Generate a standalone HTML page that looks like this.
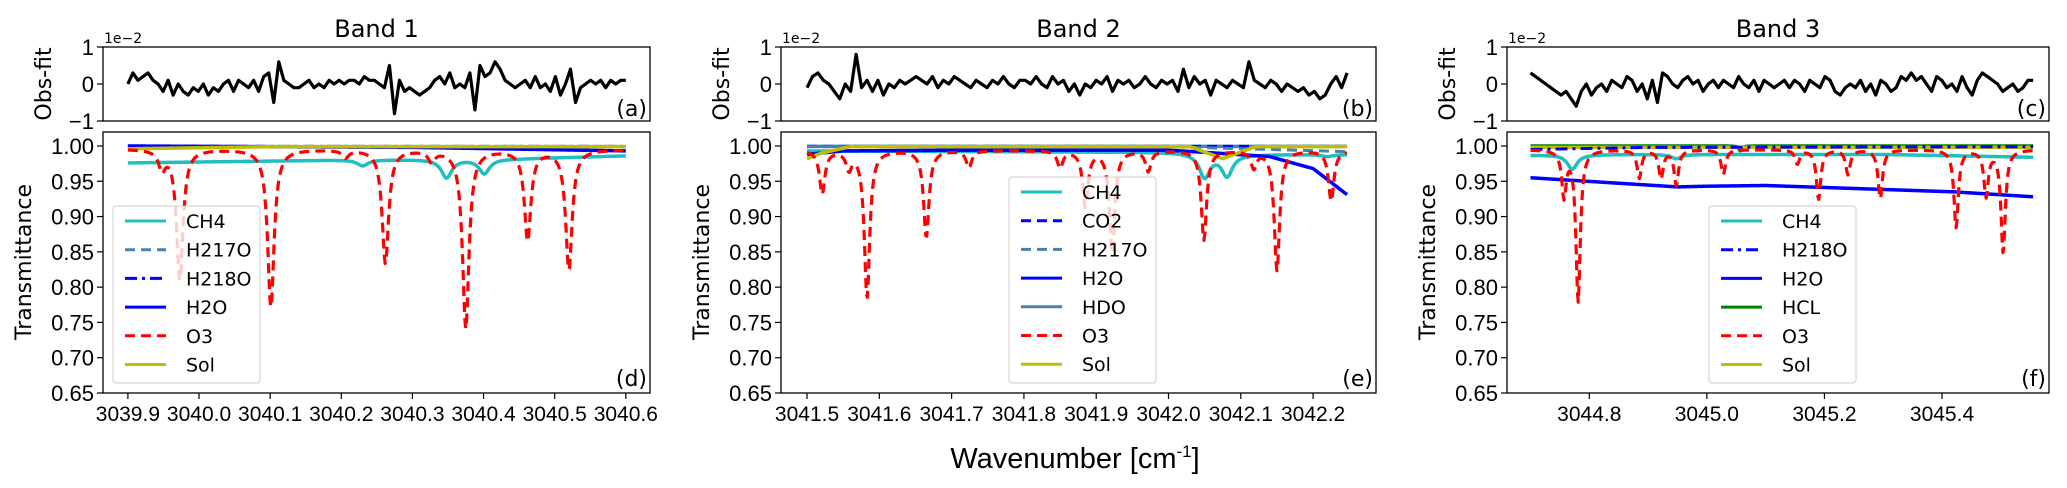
<!DOCTYPE html>
<html><head><meta charset="utf-8"><style>
html,body{margin:0;padding:0;background:#fff;}
svg{display:block;font-family:"DejaVu Sans","Liberation Sans",sans-serif;}
.tk{font-family:"Liberation Sans",sans-serif;}
</style></head><body>
<svg id="fig" width="2067" height="488" viewBox="0 0 2067 488" xmlns="http://www.w3.org/2000/svg"></svg>
<script>
// ---------------- data ----------------
const bandTitles = ["Band 1","Band 2","Band 3"];
const xTicks1 = [3039.9,3040.0,3040.1,3040.2,3040.3,3040.4,3040.5,3040.6];
const xTicks2 = [3041.5,3041.6,3041.7,3041.8,3041.9,3042.0,3042.1,3042.2];
const xTicks3 = [3044.8,3045.0,3045.2,3045.4];
const yTicksTop = [-1,0,1];
const yTicksBot = [0.65,0.70,0.75,0.80,0.85,0.90,0.95,1.00];

// residuals (units of 1e-2)
const resid1 = [0,0.3,0.1,0.2,0.3,0.1,0.0,-0.2,0.1,-0.3,0.0,-0.2,-0.3,-0.1,-0.2,0.0,-0.3,-0.1,-0.2,0.0,
 0.1,-0.2,0.1,0.0,-0.1,0.1,-0.2,0.2,0.3,-0.5,0.6,0.1,0.0,-0.1,-0.1,0.0,0.1,-0.1,0.0,-0.1,
 0.1,0.0,0.1,0.0,0.1,0.1,0.0,0.2,0.1,0.1,0.0,-0.1,0.5,-0.8,0.1,-0.2,-0.1,-0.2,-0.3,-0.2,
 -0.1,0.1,0.2,0.0,0.3,-0.1,0.0,-0.1,0.3,-0.7,0.5,0.2,0.3,0.6,0.4,0.1,0.0,-0.1,0.0,0.1,
 -0.1,0.2,-0.1,0.0,-0.2,0.2,-0.3,0.0,0.4,-0.5,-0.1,0.0,0.1,0.0,0.1,-0.1,0.1,0.0,0.1,0.1];
const resid2 = [-0.1,0.2,0.3,0.1,0.0,-0.2,-0.4,0.0,-0.2,0.8,-0.1,0.1,-0.2,0.1,-0.3,0.0,-0.1,0.1,0.0,0.1,
 0.2,0.1,0.0,0.2,-0.1,0.1,0.0,0.2,0.1,0.0,-0.1,0.1,0.0,-0.1,0.1,0.0,0.2,0.0,-0.1,0.1,
 0.1,0.0,0.2,0.0,-0.1,0.2,0.0,0.1,-0.2,0.0,-0.3,0.0,-0.1,0.1,0.0,0.2,-0.2,0.1,0.0,0.1,
 -0.1,0.0,0.2,0.0,-0.1,0.1,0.0,0.1,-0.2,0.4,-0.1,0.2,0.0,0.1,-0.3,0.1,0.0,-0.1,0.1,0.0,
 -0.1,0.6,0.1,0.0,-0.1,0.1,0.0,-0.2,0.0,-0.1,-0.2,-0.1,-0.3,-0.2,-0.4,-0.3,0.0,0.2,-0.1,0.3];
const resid3 = [0.3,0.2,0.1,0.0,-0.1,-0.2,-0.3,-0.2,-0.4,-0.6,-0.2,0.0,-0.3,-0.1,0.0,-0.2,0.1,0.0,-0.1,0.2,
 0.1,-0.2,0.0,-0.4,0.1,-0.5,0.3,0.2,0.0,-0.1,0.1,0.2,0.0,0.1,-0.2,0.0,0.1,-0.1,0.1,0.0,
 -0.1,0.2,0.0,-0.1,0.1,-0.2,0.1,0.0,-0.1,0.0,0.1,-0.1,0.1,0.0,-0.2,0.1,0.0,-0.1,0.2,0.1,
 -0.2,-0.3,-0.1,0.0,-0.1,0.1,-0.2,0.0,-0.3,0.1,0.0,-0.2,-0.1,0.2,0.1,0.3,0.1,0.2,0.0,-0.2,
 0.2,0.1,-0.1,0.0,-0.2,0.2,-0.1,-0.3,0.1,0.3,0.2,0.1,0.0,-0.2,-0.1,0.0,-0.2,-0.1,0.1,0.1];

// Band 1 species
const o3Centers1 = [3039.948,3039.973,3040.101,3040.206,3040.262,3040.327,3040.375,3040.462,3040.520];
const o3Mins1    = [0.970,0.810,0.772,0.985,0.834,0.980,0.742,0.867,0.825];
const ch4Knots1  = [3039.9,3040.2,3040.45,3040.6];
const ch4Base1   = [0.976,0.980,0.982,0.986];
const ch4Centers1= [3040.23,3040.348,3040.401];
const ch4Mins1   = [0.972,0.955,0.961];
const h2oKnots1  = [3039.9,3040.3,3040.6];
const h2oBase1   = [1.000,0.998,0.993];
const solKnots1  = [3039.9,3040.1,3040.6];
const solBase1   = [0.996,0.999,0.999];

// Band 2 species
const o3Centers2 = [3041.521,3041.558,3041.583,3041.665,3041.724,3041.850,3041.885,3041.922,3041.972,3042.049,3042.118,3042.150,3042.225];
const o3Mins2    = [0.933,0.970,0.785,0.871,0.970,0.970,0.915,0.850,0.965,0.867,0.970,0.824,0.922];
const ch4Knots2  = [3041.5,3042.0,3042.1,3042.247];
const ch4Base2   = [0.993,0.991,0.988,0.988];
const ch4Centers2= [3042.050,3042.081,3042.220];
const ch4Mins2   = [0.956,0.958,0.985];
const h2oKnots2  = [3041.5,3041.55,3041.7,3042.0,3042.05,3042.14,3042.2,3042.247];
const h2oBase2   = [0.988,0.993,0.994,0.994,0.991,0.985,0.968,0.931];
const solKnots2  = [3041.5,3041.52,3041.56,3042.03,3042.075,3042.12,3042.247];
const solBase2   = [0.982,0.990,0.999,0.999,0.982,0.999,0.999];
const h217oKnots2= [3041.5,3042.0,3042.247];
const h217oBase2 = [0.999,0.999,0.992];

// Band 3 species
const o3Centers3 = [3044.757,3044.781,3044.885,3044.922,3044.948,3045.028,3045.154,3045.190,3045.240,3045.295,3045.424,3045.475,3045.504];
const o3Mins3    = [0.930,0.780,0.955,0.955,0.945,0.960,0.975,0.925,0.960,0.925,0.885,0.930,0.850];
const ch4Knots3  = [3044.70,3044.85,3045.3,3045.555];
const ch4Base3   = [0.987,0.988,0.988,0.984];
const ch4Centers3= [3044.771,3044.948];
const ch4Mins3   = [0.967,0.982];
const h2oKnots3  = [3044.70,3044.95,3045.0,3045.1,3045.42,3045.555];
const h2oBase3   = [0.955,0.942,0.943,0.944,0.935,0.928];
const hclCenters3= [3045.057];
const hclMins3   = [0.993];

// ---------------- helpers ----------------
const NS="http://www.w3.org/2000/svg";
const svg=document.getElementById('fig');
function mk(tag,attrs,parent){const e=document.createElementNS(NS,tag);for(const k in attrs)e.setAttribute(k,attrs[k]);(parent||svg).appendChild(e);return e;}
function interp(kx,ky,x){if(x<=kx[0])return ky[0];for(let i=1;i<kx.length;i++){if(x<=kx[i]){const t=(x-kx[i-1])/(kx[i]-kx[i-1]);return ky[i-1]+t*(ky[i]-ky[i-1]);}}return ky[ky.length-1];}
function spectrum(kx,ky,centers,mins,w){return function(x){let b=interp(kx,ky,x);let v=b;for(let i=0;i<centers.length;i++){const d=(interp(kx,ky,centers[i])-mins[i])/interp(kx,ky,centers[i]);const u=(x-centers[i])/w;v*=1-d/(1+u*u);}return v;};}

const panels=[
 {x0:103,x1:650,xmin:3039.865,xmax:3040.634,d0:3039.9,d1:3040.6,ticks:xTicks1,tickFmt:1,resid:resid1,lab:['(a)','(d)']},
 {x0:781,x1:1376,xmin:3041.464,xmax:3042.287,d0:3041.5,d1:3042.247,ticks:xTicks2,tickFmt:1,resid:resid2,lab:['(b)','(e)']},
 {x0:1507,x1:2049,xmin:3044.660,xmax:3045.582,d0:3044.70,d1:3045.555,ticks:xTicks3,tickFmt:1,resid:resid3,lab:['(c)','(f)']}
];
const TOP={y0:47,y1:121,min:-1,max:1};
const BOT={y0:132,y1:393,min:0.65,max:1.0198};

function drawCurve(g,p,f,style,name){
  const sx=v=>p.x0+(v-p.xmin)/(p.xmax-p.xmin)*(p.x1-p.x0);
  const sy=v=>BOT.y1-(v-BOT.min)/(BOT.max-BOT.min)*(BOT.y1-BOT.y0);
  const N=600;let d='';
  for(let i=0;i<=N;i++){const x=p.d0+(p.d1-p.d0)*i/N;d+=(i?'L':'M')+sx(x).toFixed(2)+','+sy(f(x)).toFixed(2);}
  const el=mk('path',Object.assign({d:d,fill:'none','stroke-linejoin':'round'},style),g);
  
  
}

const S={
 CH4:{stroke:'#1fbfbf','stroke-width':3.5},
 CO2:{stroke:'#0000ff','stroke-width':3,'stroke-dasharray':'10,6'},
 H217O:{stroke:'#4682b4','stroke-width':3,'stroke-dasharray':'10,6'},
 H218O:{stroke:'#0000ff','stroke-width':3,'stroke-dasharray':'12,5,3,5'},
 H2O:{stroke:'#0000ff','stroke-width':3.5},
 HDO:{stroke:'#4682b4','stroke-width':3.5},
 HCL:{stroke:'#008000','stroke-width':3.5},
 O3:{stroke:'#ff0000','stroke-width':3.2,'stroke-dasharray':'10,6'},
 Sol:{stroke:'#bfbf00','stroke-width':3.5}
};

const species=[
 [['H217O',()=>0.9995],['H218O',()=>0.9995],['H2O',spectrum(h2oKnots1,h2oBase1,[],[],0.01)],['Sol',spectrum(solKnots1,solBase1,[],[],0.01)],['CH4',spectrum(ch4Knots1,ch4Base1,ch4Centers1,ch4Mins1,0.009)],['O3',spectrum([3039.9,3040.6],[0.996,0.995],o3Centers1,o3Mins1,0.0055)]],
 [['HDO',()=>0.9995],['CO2',()=>0.9995],['H217O',spectrum(h217oKnots2,h217oBase2,[],[],0.01)],['CH4',spectrum(ch4Knots2,ch4Base2,ch4Centers2,ch4Mins2,0.009)],['H2O',spectrum(h2oKnots2,h2oBase2,[],[],0.01)],['Sol',spectrum(solKnots2,solBase2,[],[],0.01)],['O3',spectrum([3041.5,3042.247],[0.994,0.994],o3Centers2,o3Mins2,0.0045)]],
 [['HCL',spectrum([3044.7,3045.555],[1.0,1.0],hclCenters3,hclMins3,0.003)],['Sol',()=>0.998],['H218O',spectrum([3044.7,3044.9,3045.555],[0.995,0.998,0.999],[],[],0.01)],['CH4',spectrum(ch4Knots3,ch4Base3,ch4Centers3,ch4Mins3,0.01)],['H2O',spectrum(h2oKnots3,h2oBase3,[],[],0.01)],['O3',spectrum([3044.7,3045.555],[0.995,0.995],o3Centers3,o3Mins3,0.0045)]]
];
const legends=[
 {names:['CH4','H217O','H218O','H2O','O3','Sol'],x:113,y:206,w:147,h:177},
 {names:['CH4','CO2','H217O','H2O','HDO','O3','Sol'],x:1009,y:177,w:147,h:206},
 {names:['CH4','H218O','H2O','HCL','O3','Sol'],x:1709,y:206,w:147,h:177}
];

panels.forEach((p,pi)=>{
  const g=mk('g',{});
  
  
  const sx=v=>p.x0+(v-p.xmin)/(p.xmax-p.xmin)*(p.x1-p.x0);
  const cx=(p.x0+p.x1)/2;
  const t=mk('text',{x:cx,y:37,'font-size':24,'text-anchor':'middle',fill:'#000'},g);t.textContent=bandTitles[pi];
  
  

  // top axes
  const tsy=v=>TOP.y1-(v-TOP.min)/(TOP.max-TOP.min)*(TOP.y1-TOP.y0);
  let d='';p.resid.forEach((v,i)=>{const x=p.d0+(p.d1-p.d0)*i/(p.resid.length-1);d+=(i?'L':'M')+sx(x).toFixed(2)+','+tsy(v).toFixed(2);});
  const rl=mk('path',{d:d,fill:'none',stroke:'#000','stroke-width':3.2,'stroke-linejoin':'round'},g);
  
  
  const tb=mk('rect',{x:p.x0,y:TOP.y0,width:p.x1-p.x0,height:TOP.y1-TOP.y0,fill:'none',stroke:'#000','stroke-width':1.3},g);
  
  
  yTicksTop.forEach(v=>{const y=tsy(v);mk('line',{x1:p.x0-6,x2:p.x0,y1:y,y2:y,stroke:'#000','stroke-width':1.2},g);
    const tx=mk('text',{x:p.x0-9,y:y+8,'font-size':22,'text-anchor':'end','class':'tk'},g);tx.textContent=v<0?'\u2212'+Math.abs(v):String(v);
    
    });
  const ex=mk('text',{x:p.x0+1,y:43,'font-size':14},g);ex.textContent='1e\u22122';
  
  
  const la=mk('text',{x:p.x1-3,y:TOP.y1-5,'font-size':22,'text-anchor':'end'},g);la.textContent=p.lab[0];
  
  
  const yl=mk('text',{x:0,y:0,'font-size':22,'text-anchor':'middle',transform:`translate(${p.x0-52},84) rotate(-90)`},g);yl.textContent='Obs-fit';
  
  

  // bottom axes
  const bsy=v=>BOT.y1-(v-BOT.min)/(BOT.max-BOT.min)*(BOT.y1-BOT.y0);
  species[pi].forEach(([n,f])=>drawCurve(g,p,f,S[n],'curve-'+n.toLowerCase()));
  // legend
  const L=legends[pi];
  const lb=mk('rect',{x:L.x,y:L.y,width:L.w,height:L.h,rx:3,fill:'#fff','fill-opacity':0.8,stroke:'#cccccc','stroke-width':1},g);
  
  
  L.names.forEach((n,i)=>{const y=L.y+15+i*28.7;
    const st=Object.assign({},S[n]);st['stroke-width']=Math.min(st['stroke-width'],3);
    const ln=mk('line',Object.assign({x1:L.x+12,x2:L.x+53,y1:y,y2:y},st),g);
    
    
    const lt=mk('text',{x:L.x+73,y:y+7,'font-size':19},g);lt.textContent=n;
    
    });
  const bb=mk('rect',{x:p.x0,y:BOT.y0,width:p.x1-p.x0,height:BOT.y1-BOT.y0,fill:'none',stroke:'#000','stroke-width':1.3},g);
  
  
  yTicksBot.forEach(v=>{const y=bsy(v);mk('line',{x1:p.x0-6,x2:p.x0,y1:y,y2:y,stroke:'#000','stroke-width':1.2},g);
    const tx=mk('text',{x:p.x0-9,y:y+8,'font-size':22,'text-anchor':'end','class':'tk'},g);tx.textContent=v.toFixed(2);
    
    });
  p.ticks.forEach(v=>{const x=sx(v);mk('line',{x1:x,x2:x,y1:BOT.y1,y2:BOT.y1+6,stroke:'#000','stroke-width':1.2},g);
    const tx=mk('text',{x:x,y:BOT.y1+28,'font-size':21,'text-anchor':'middle','class':'tk'},g);tx.textContent=v.toFixed(p.tickFmt);
    
    });
  const lb2=mk('text',{x:p.x1-3,y:BOT.y1-7,'font-size':22,'text-anchor':'end'},g);lb2.textContent=p.lab[1];
  
  
  const yl2=mk('text',{x:0,y:0,'font-size':22,'text-anchor':'middle',transform:`translate(${p.x0-72},262) rotate(-90)`},g);yl2.textContent='Transmittance';
  
  
});
const xt=mk('text',{x:1075,y:468,'font-size':29,'text-anchor':'middle','font-family':'"Liberation Sans",sans-serif'});
xt.innerHTML='Wavenumber [cm<tspan dy="-11" font-size="17">-1</tspan><tspan dy="11">]</tspan>';


</script>
</body></html>
